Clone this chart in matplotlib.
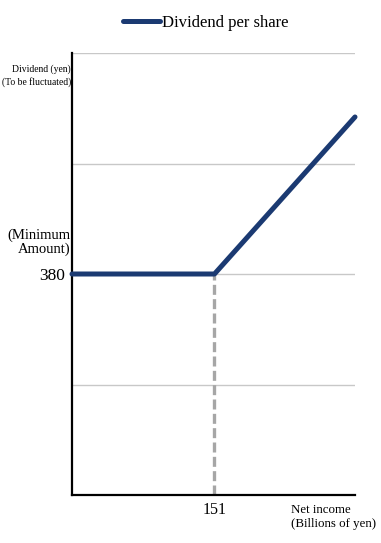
import matplotlib.pyplot as plt

# datos del grafico (ingreso neto en miles de millones de yenes, dividendo en yenes)
ingreso = [0, 151, 300]
dividendo = [380, 380, 650]
umbral_x = 151
minimo = 380
lineas_y = [190, 380, 570, 760]
etiquetas_y = ['', '380', '', '']

plt.rcParams['font.family'] = ['Liberation Serif', 'DejaVu Serif']

fig = plt.figure(figsize=(3.81, 5.43), dpi=100)
ax = fig.add_axes([72 / 381, 48 / 543, 283 / 381, 442 / 543])

# lineas de cuadricula
ax.set_yticks(lineas_y)
ax.set_yticklabels(etiquetas_y, fontsize=12.5)
ax.grid(axis='y', color='#c8c8c8', linewidth=1)
ax.set_axisbelow(True)

# linea punteada en el umbral
ax.plot([umbral_x, umbral_x], [0, minimo], color='#a6a6a6', linewidth=2.4,
        linestyle=(0, (3, 1.3)), zorder=2)

# linea principal
ax.plot(ingreso, dividendo, color='#1b3a72', linewidth=3.6,
        solid_capstyle='round', label='Dividend per share', zorder=3, clip_on=False)

ax.set_xlim(0, 300)
ax.set_ylim(0, 760)
ax.set_xticks([umbral_x])
ax.set_xticklabels([str(umbral_x)], fontsize=11.5)
ax.tick_params(length=0, pad=5)
ax.spines['top'].set_visible(False)
ax.spines['right'].set_visible(False)
ax.spines['left'].set_linewidth(1.6)
ax.spines['bottom'].set_linewidth(1.6)

# textos de los ejes
ax.text(-0.004, 0.975, 'Dividend (yen)\n(To be fluctuated)', transform=ax.transAxes,
        ha='right', va='top', fontsize=6.9, linespacing=1.5)
ax.text(-0.006, 0.54, '(Minimum\nAmount)', transform=ax.transAxes,
        ha='right', va='bottom', fontsize=10.5, linespacing=1.05)
ax.text(0.775, -0.02, 'Net income\n(Billions of yen)', transform=ax.transAxes,
        ha='left', va='top', fontsize=9.3, linespacing=1.25)

fig.legend(loc='upper center', bbox_to_anchor=(0.54, 1.0), frameon=False,
           fontsize=12, handlelength=2.2, handletextpad=0.15)

plt.savefig('out.png', dpi=100)
